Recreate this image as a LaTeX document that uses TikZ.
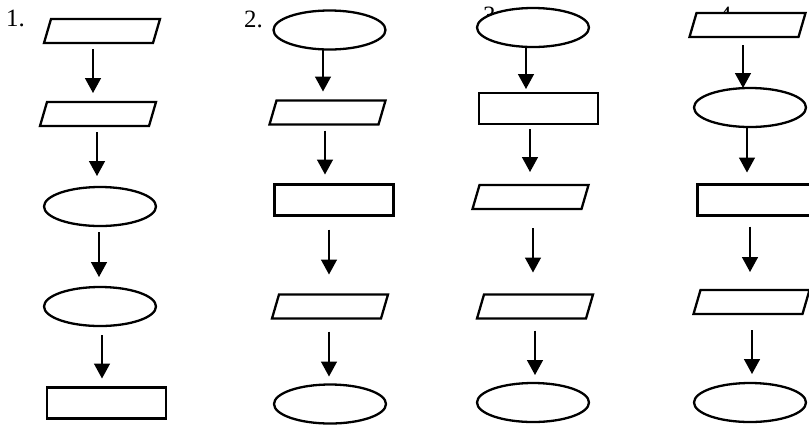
\documentclass[tikz,border=0pt]{standalone}
\usepackage{fontspec}
\setmainfont{Liberation Serif}
\usetikzlibrary{shapes.geometric,arrows.meta,calc}
\newcommand\conn[5]{\draw[arr] ($(#1.south)+(#3,#4)$) -- ($(#1.south |- #2.north)+(#3,-#5)$);}
\newcommand\paranode[3]{%
  \node[parabox] (#1) at (#2,#3) {};
  \draw[shp] ([xshift=7bp]#1.north west) -- (#1.north east) -- ([xshift=-7bp]#1.south east) -- (#1.south west) -- cycle;}
\begin{document}
\begin{tikzpicture}[x=1bp,y=-1bp,
  shp/.style={draw,fill=white,line width=2.3bp,inner sep=0pt,outer sep=0pt,line join=miter},
  ell/.style={shp,ellipse,minimum width=112bp,minimum height=39bp},
  box/.style={shp,rectangle,minimum width=119bp,minimum height=31bp},
  parabox/.style={rectangle,inner sep=0pt,outer sep=0pt,minimum width=116bp,minimum height=24bp},
  arr/.style={line width=1.5bp,-{Triangle[length=15bp,width=16bp]}},
  lbl/.style={anchor=base west,inner sep=0pt,font=\fontsize{25}{30}\selectfont}]
\useasboundingbox (0,0) rectangle (809,425);
\clip (0,0) rectangle (809,425);
% labels
\node[lbl] (l1) at (6,26) {1.};
\node[lbl] (l2) at (244,27) {2.};
\node[lbl] (l3) at (483,23) {3.};
\node[lbl] (l4) at (719,23) {4.};
% column 1
\paranode{p11}{102}{31}
\paranode{p12}{98}{114}
\node[ell]  (e13) at (100,206.5) {};
\node[ell]  (e14) at (100,306.5) {};
\node[box]  (r15) at (106.5,403) {};
% column 2
\node[ell]  (e21) at (329.5,30) {};
\paranode{p22}{327.5}{112.5}
\node[box]  (r23) at (334,200) {};
\paranode{p24}{330}{306.5}
\node[ell]  (e25) at (330,404) {};
% column 3
\node[ell]  (e31) at (533,27.5) {};
\node[box]  (r32) at (538.5,108.5) {};
\paranode{p33}{530.5}{197}
\paranode{p34}{535}{306.5}
\node[ell]  (e35) at (533,402.5) {};
% column 4
\paranode{p41}{747.5}{25}
\node[ell]  (e42) at (750,107.5) {};
\node[box]  (r43) at (757,200) {};
\paranode{p44}{751.5}{302}
\node[ell]  (e45) at (750,402.5) {};
% connectors
\conn{p11}{p12}{-9}{6}{9}
\conn{p12}{e13}{-1}{6}{11}
\conn{e13}{e14}{-1}{6}{10}
\conn{e14}{r15}{2}{9}{9}
\conn{e21}{p22}{-6.5}{0}{9}
\conn{p22}{r23}{-2.5}{6}{10}
\conn{r23}{p24}{-5}{14}{20}
\conn{p24}{e25}{-1}{13}{8}
\conn{e31}{r32}{-7}{0}{4}
\conn{r32}{p33}{-8.5}{5}{13}
\conn{p33}{p34}{2.5}{19}{22}
\conn{p34}{e35}{0}{12}{8}
\conn{p41}{e42}{-4.5}{8}{0}
\conn{e42}{r43}{-3}{0}{12}
\conn{r43}{p44}{-7}{11}{18}
\conn{p44}{e45}{0.5}{16}{9}
\end{tikzpicture}
\end{document}
